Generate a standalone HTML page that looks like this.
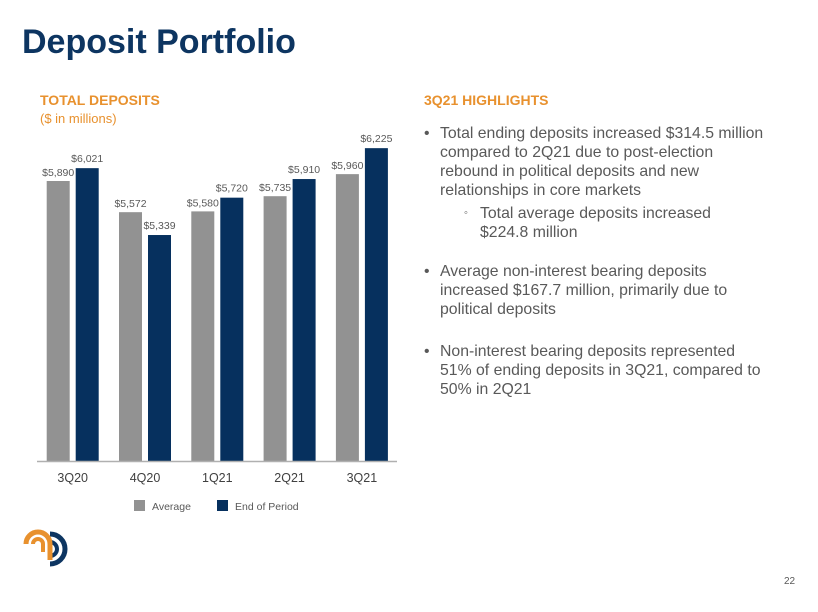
<!DOCTYPE html>
<html><head><meta charset="utf-8"><style>
body{margin:0;width:818px;height:612px;background:#fff;font-family:"Liberation Sans",sans-serif;position:relative;overflow:hidden}
.a{position:absolute;white-space:nowrap}
.hl{color:#e8912e;font-weight:bold;font-size:14px}
.b{position:absolute;left:424px;font-size:15.8px;color:#595959;line-height:19px;white-space:nowrap}
.b span.dot{position:absolute;left:0}
.b div{padding-left:16px}
</style></head><body>
<div class="a" style="left:22px;top:23px;font-size:34px;font-weight:bold;color:#0d3561">Deposit Portfolio</div>
<div class="a hl" style="left:40px;top:92px">TOTAL DEPOSITS</div>
<div class="a" style="left:40px;top:111px;font-size:13px;color:#e8912e">($ in millions)</div>
<div class="a hl" style="left:424px;top:92px">3Q21 HIGHLIGHTS</div>
<div class="b" style="top:124px"><span class="dot">•</span><div>Total ending deposits increased $314.5 million<br>compared to 2Q21 due to post-election<br>rebound in political deposits and new<br>relationships in core markets</div></div>
<div class="b" style="top:204px;left:464px"><span class="dot" style="font-size:11px">◦</span><div>Total average deposits increased<br>$224.8 million</div></div>
<div class="b" style="top:262px"><span class="dot">•</span><div>Average non-interest bearing deposits<br>increased $167.7 million, primarily due to<br>political deposits</div></div>
<div class="b" style="top:342px"><span class="dot">•</span><div>Non-interest bearing deposits represented<br>51% of ending deposits in 3Q21, compared to<br>50% in 2Q21</div></div>
<svg class="a" style="left:0;top:0" width="818" height="612" id="chart"></svg>
<svg class="a" style="left:20px;top:520px" width="50" height="50" viewBox="0 0 50 50">
<path d="M30 14 A14 14 0 1 1 30 44" fill="none" stroke="#0d3561" stroke-width="5"/>
<path d="M30 22 A6 6 0 1 1 30 36" fill="none" stroke="#0d3561" stroke-width="4"/>
<path d="M6 24 A12 12 0 0 1 30 24 V40" fill="none" stroke="#e8912e" stroke-width="5"/>
<path d="M13 24 A5 5 0 0 1 23 24 V32" fill="none" stroke="#e8912e" stroke-width="4"/>
</svg>
<div class="a" style="left:784px;top:576px;font-size:10px;color:#595959">22</div>
<script>
const categories=["3Q20","4Q20","1Q21","2Q21","3Q21"];
const averageValues=[5890,5572,5580,5735,5960];
const endValues=[6021,5339,5720,5910,6225];
const ns="http://www.w3.org/2000/svg";
const svg=document.getElementById('chart');
const base=461,vmin=3034,k=1/10.2;
const y=v=>base-(v-vmin)*k;
const gx=i=>46.7+i*72.3;
function el(t,a,txt){const e=document.createElementNS(ns,t);for(const q in a)e.setAttribute(q,a[q]);if(txt!=null)e.textContent=txt;svg.appendChild(e);return e;}
const fmt=v=>"$"+v.toLocaleString("en-US");
categories.forEach((c,i)=>{
 const x=gx(i);
 const r1=el('rect',{x:x,y:y(averageValues[i]),width:23,height:base-y(averageValues[i]),fill:'#929292'});
 
 
 const r2=el('rect',{x:x+29,y:y(endValues[i]),width:23,height:base-y(endValues[i]),fill:'#06305e'});
 
 
 const t1=el('text',{x:x+11.5,y:y(averageValues[i])-5,'text-anchor':'middle','font-size':10.5,fill:'#595959'},fmt(averageValues[i]));
 
 
 const t2=el('text',{x:x+40.5,y:y(endValues[i])-6,'text-anchor':'middle','font-size':10.5,fill:'#595959'},fmt(endValues[i]));
 
 
 const t3=el('text',{x:x+26,y:482,'text-anchor':'middle','font-size':12.5,fill:'#404040'},c);
 
 
});
const ax=el('line',{x1:37,x2:397,y1:461.5,y2:461.5,stroke:'#b0b0b0','stroke-width':1.5});


const l1=el('rect',{x:134,y:500,width:11,height:11,fill:'#929292'});


const l2=el('text',{x:152,y:510,'font-size':10.5,fill:'#595959'},'Average');


const l3=el('rect',{x:217,y:500,width:11,height:11,fill:'#06305e'});


const l4=el('text',{x:235,y:510,'font-size':10.5,fill:'#595959'},'End of Period');


</script>
</body></html>
